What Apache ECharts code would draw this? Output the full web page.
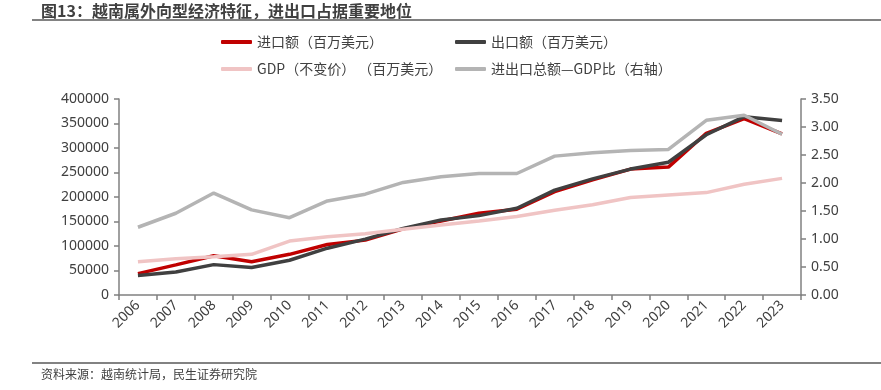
<!DOCTYPE html>
<html><head><meta charset="utf-8">
<script src="https://cdn.jsdelivr.net/npm/echarts@6/dist/echarts.min.js"></script>
<style>html,body{margin:0;padding:0;background:#fff}#c{width:881px;height:390px}</style>
</head><body><div id="c"></div>
<script>
const years = ['2006','2007','2008','2009','2010','2011','2012','2013','2014','2015','2016','2017','2018','2019','2020','2021','2022','2023'];
const importVals = [43600,61400,80000,68000,83000,103000,112000,135000,151000,167000,175000,211000,235000,257000,261000,330000,360000,329000];
const exportVals = [39800,47000,62000,56000,71000,95500,114000,136000,153000,162000,177000,214000,237000,257000,271000,327000,364000,356000];
const gdpVals = [68000,74000,78000,83000,110000,119000,125000,134000,143000,151000,160000,173000,184000,199000,204000,209000,226000,238000];
const ratioVals = [1.21,1.46,1.82,1.52,1.38,1.68,1.80,2.01,2.11,2.17,2.17,2.48,2.54,2.58,2.60,3.12,3.21,2.87];
const leftTicks = {min:0,max:400000,interval:50000};
const rightTicks = {min:0,max:3.5,interval:0.5};
const names = ['进口额（百万美元）','出口额（百万美元）','GDP（不变价） （百万美元）','进出口总额—GDP比（右轴）'];
const colors = ['#C00000','#404040','#F0C4C4','#B4B4B4'];

const cjk = '"Noto Sans CJK SC", "Noto Sans", sans-serif';
const chart = echarts.init(document.getElementById('c'), null, {renderer:'canvas'});
function lg(name, left, top){
  return {data:[name], left:left, top:top, itemWidth:31, itemHeight:4, icon:'roundRect', itemGap:5,
    textStyle:{fontSize:14, color:'#404040', fontFamily:cjk}, padding:0};
}
const axisLine = {show:true, lineStyle:{color:'#808080', width:1.5}};
chart.setOption({
  animation:false,
  textStyle:{fontFamily:cjk},
  legend:[lg(names[0],221,35), lg(names[1],455,35), lg(names[2],221,62), lg(names[3],455,62)],
  grid:{left:119, right:80, top:99, bottom:95, containLabel:false},
  xAxis:{type:'category', data:years, boundaryGap:true,
    axisLine:axisLine, axisTick:{show:true, length:5, lineStyle:{color:'#808080', width:1.5}, alignWithLabel:false},
    axisLabel:{rotate:45, fontSize:14, color:'#404040', margin:8, fontFamily:'"Noto Sans", sans-serif', interval:0}},
  yAxis:[
    {type:'value', min:leftTicks.min, max:leftTicks.max, interval:leftTicks.interval, splitLine:{show:false},
     axisLine:axisLine, axisTick:{show:true, length:5, lineStyle:{color:'#808080', width:1.5}},
     axisLabel:{fontSize:14, color:'#404040', margin:10, fontFamily:'"Noto Sans", sans-serif', formatter:v=>String(v)}},
    {type:'value', position:'right', min:rightTicks.min, max:rightTicks.max, interval:rightTicks.interval, splitLine:{show:false},
     axisLine:axisLine, axisTick:{show:true, length:5, lineStyle:{color:'#808080', width:1.5}},
     axisLabel:{fontSize:14, color:'#404040', margin:10, fontFamily:'"Noto Sans", sans-serif', formatter:v=>v.toFixed(2)}}
  ],
  series:[
    {name:names[0], type:'line', data:importVals, yAxisIndex:0, symbol:'none', lineStyle:{width:3.5, color:colors[0]}, itemStyle:{color:colors[0]}, z:2},
    {name:names[1], type:'line', data:exportVals, yAxisIndex:0, symbol:'none', lineStyle:{width:3.5, color:colors[1]}, itemStyle:{color:colors[1]}, z:3},
    {name:names[2], type:'line', data:gdpVals, yAxisIndex:0, symbol:'none', lineStyle:{width:3.5, color:colors[2]}, itemStyle:{color:colors[2]}, z:4},
    {name:names[3], type:'line', data:ratioVals, yAxisIndex:1, symbol:'none', lineStyle:{width:3.5, color:colors[3]}, itemStyle:{color:colors[3]}, z:5}
  ],
  graphic:[
    {type:'text', left:41, top:3, style:{text:'图13：越南属外向型经济特征，进出口占据重要地位', font:'bold 16px "Noto Sans CJK SC"', fill:'#404040'}},
    {type:'line', shape:{x1:32, y1:20, x2:881, y2:20}, style:{stroke:'#595959', lineWidth:1.5}},
    {type:'line', shape:{x1:32, y1:363, x2:881, y2:363}, style:{stroke:'#595959', lineWidth:1.5}},
    {type:'text', left:41, top:368, style:{text:'资料来源：越南统计局，民生证券研究院', font:'12px "Noto Sans CJK SC"', fill:'#404040'}}
  ]
});
</script></body></html>
